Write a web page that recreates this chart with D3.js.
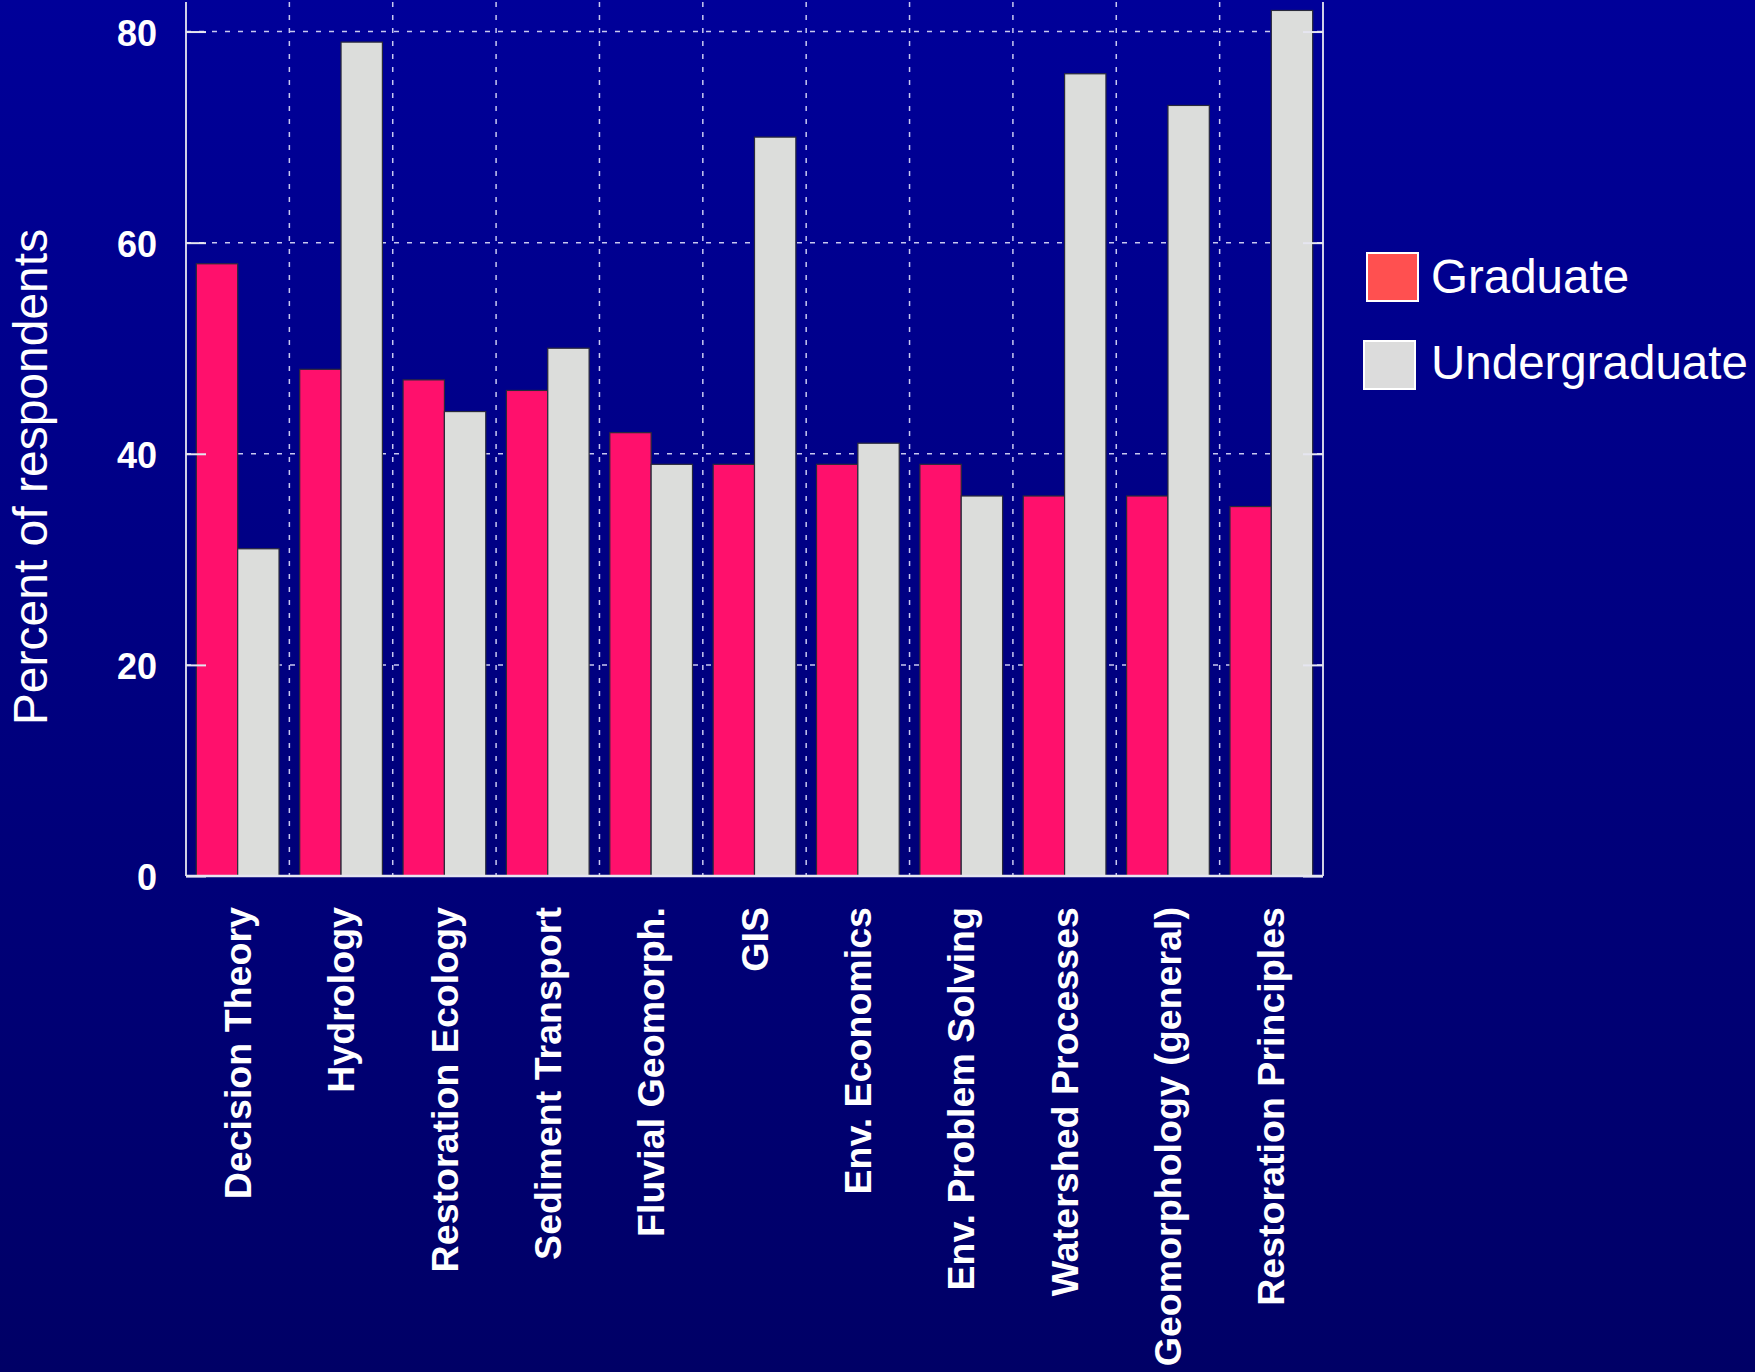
<!DOCTYPE html>
<html>
<head>
<meta charset="utf-8">
<script src="https://cdn.jsdelivr.net/npm/d3@7"></script>
<style>
  html, body { margin: 0; padding: 0; background: #000080; }
  svg { display: block; }
</style>
</head>
<body>
<script>
const categories = ["Decision Theory", "Hydrology", "Restoration Ecology", "Sediment Transport",
  "Fluvial Geomorph.", "GIS", "Env. Economics", "Env. Problem Solving", "Watershed Processes",
  "Geomorphology (general)", "Restoration Principles"];
const seriesNames = ["Graduate", "Undergraduate"];
const graduate = [58, 48, 47, 46, 42, 39, 39, 39, 36, 36, 35];
const undergraduate = [31, 79, 44, 50, 39, 70, 41, 36, 76, 73, 82];
const yTicks = [0, 20, 40, 60, 80];
const yLabel = "Percent of respondents";

(function () {
const W = 1755, H = 1372;
const plotLeft = 186, plotRight = 1323, plotBottom = 876, plotTop = 2;

const svg = d3.select("body").append("svg").attr("width", W).attr("height", H);
const defs = svg.append("defs");
const grad = defs.append("linearGradient").attr("id", "bg").attr("x1", 0).attr("y1", 0).attr("x2", 0).attr("y2", 1);
grad.append("stop").attr("offset", "0%").attr("stop-color", "#000099");
grad.append("stop").attr("offset", "100%").attr("stop-color", "#000066");
svg.append("rect").attr("width", W).attr("height", H).attr("fill", "url(#bg)");

const y = d3.scaleLinear().domain([0, 82.8]).range([plotBottom, plotTop]);
const x0 = d3.scaleBand().domain(categories).range([plotLeft, plotRight]).paddingInner(0.2).paddingOuter(0.1);
const x1 = d3.scaleBand().domain(seriesNames).range([0, x0.bandwidth()]);
const color = d3.scaleOrdinal().domain(seriesNames).range(["#FF106C", "#DCDDDB"]);
const legendColor = d3.scaleOrdinal().domain(seriesNames).range(["#FF5050", "#DCDCDC"]);

const step = (plotRight - plotLeft) / categories.length;

// horizontal gridlines
svg.append("g").selectAll("line").data(yTicks.filter(d => d > 0)).join("line")
  .attr("x1", plotLeft).attr("x2", plotRight).attr("y1", d => y(d)).attr("y2", d => y(d))
  .attr("stroke", "#C8C8F0").attr("stroke-width", 1.5).attr("stroke-dasharray", "5,8");

// vertical gridlines at category boundaries
svg.append("g").selectAll("line").data(d3.range(1, categories.length)).join("line")
  .attr("x1", i => plotLeft + i * step).attr("x2", i => plotLeft + i * step)
  .attr("y1", plotTop).attr("y2", plotBottom)
  .attr("stroke", "#C8C8F0").attr("stroke-width", 1.5).attr("stroke-dasharray", "5,8");

// bars
const rows = categories.map((c, i) => ({ cat: c, values: [
  { key: "Graduate", value: graduate[i] }, { key: "Undergraduate", value: undergraduate[i] }] }));
const groups = svg.append("g").selectAll("g").data(rows).join("g")
  .attr("transform", d => `translate(${x0(d.cat)},0)`);
groups.selectAll("rect").data(d => d.values).join("rect")
  .attr("x", d => x1(d.key)).attr("width", x1.bandwidth())
  .attr("y", d => y(d.value)).attr("height", d => y(0) - y(d.value))
  .attr("fill", d => color(d.key)).attr("stroke", "#2a2a3a").attr("stroke-width", 1.2);

// axes frame
const axisCol = "#E6E6F0";
svg.append("line").attr("x1", plotLeft).attr("x2", plotLeft).attr("y1", plotTop).attr("y2", plotBottom)
  .attr("stroke", axisCol).attr("stroke-width", 1.8);
svg.append("line").attr("x1", plotRight).attr("x2", plotRight).attr("y1", plotTop).attr("y2", plotBottom)
  .attr("stroke", axisCol).attr("stroke-width", 1.8);
svg.append("line").attr("x1", plotLeft).attr("x2", plotRight).attr("y1", plotBottom).attr("y2", plotBottom)
  .attr("stroke", axisCol).attr("stroke-width", 2.5);

// y axis via d3.axisLeft (inward ticks)
const yAxis = svg.append("g").attr("transform", `translate(${plotLeft},0)`)
  .call(d3.axisLeft(y).tickValues(yTicks).tickSize(-20).tickPadding(29).tickFormat(d3.format("d")));
yAxis.select(".domain").remove();
yAxis.selectAll(".tick line").attr("stroke", axisCol).attr("stroke-width", 2);
yAxis.selectAll(".tick text").attr("fill", "#FFFFFF")
  .attr("font-family", "Liberation Sans, Arial, sans-serif").attr("font-weight", "bold")
  .attr("font-size", 36).attr("dy", "0.38em");

const yAxisR = svg.append("g").attr("transform", `translate(${plotRight},0)`)
  .call(d3.axisRight(y).tickValues(yTicks).tickSize(-20).tickFormat(""));
yAxisR.select(".domain").remove();
yAxisR.selectAll(".tick line").attr("stroke", axisCol).attr("stroke-width", 2);

// category labels
svg.append("g").selectAll("text").data(categories).join("text")
  .attr("transform", d => `translate(${x0(d) + x0.bandwidth() / 2},907) rotate(-90)`)
  .attr("text-anchor", "end").attr("dy", "0.35em")
  .attr("fill", "#FFFFFF").attr("font-family", "Liberation Sans, Arial, sans-serif")
  .attr("font-weight", "bold").attr("font-size", 37.6)
  .text(d => d);

// y label
svg.append("text").attr("transform", "translate(47,477) rotate(-90)")
  .attr("text-anchor", "middle").attr("fill", "#FFFFFF")
  .attr("font-family", "Liberation Sans, Arial, sans-serif").attr("font-size", 48)
  .text(yLabel);

// legend
const legendPos = [{ x: 1367, y: 253, tx: 1431, ty: 293 }, { x: 1364, y: 341, tx: 1431, ty: 379 }];
const leg = svg.append("g").selectAll("g").data(seriesNames).join("g");
leg.append("rect").attr("x", (d, i) => legendPos[i].x).attr("y", (d, i) => legendPos[i].y)
  .attr("width", 51).attr("height", 48)
  .attr("fill", d => legendColor(d)).attr("stroke", "#FFFFFF").attr("stroke-width", 2);
leg.append("text").attr("x", (d, i) => legendPos[i].tx).attr("y", (d, i) => legendPos[i].ty)
  .attr("fill", "#FFFFFF").attr("font-family", "Liberation Sans, Arial, sans-serif")
  .attr("font-size", 47.5).text(d => d);
})();
</script>
</body>
</html>
